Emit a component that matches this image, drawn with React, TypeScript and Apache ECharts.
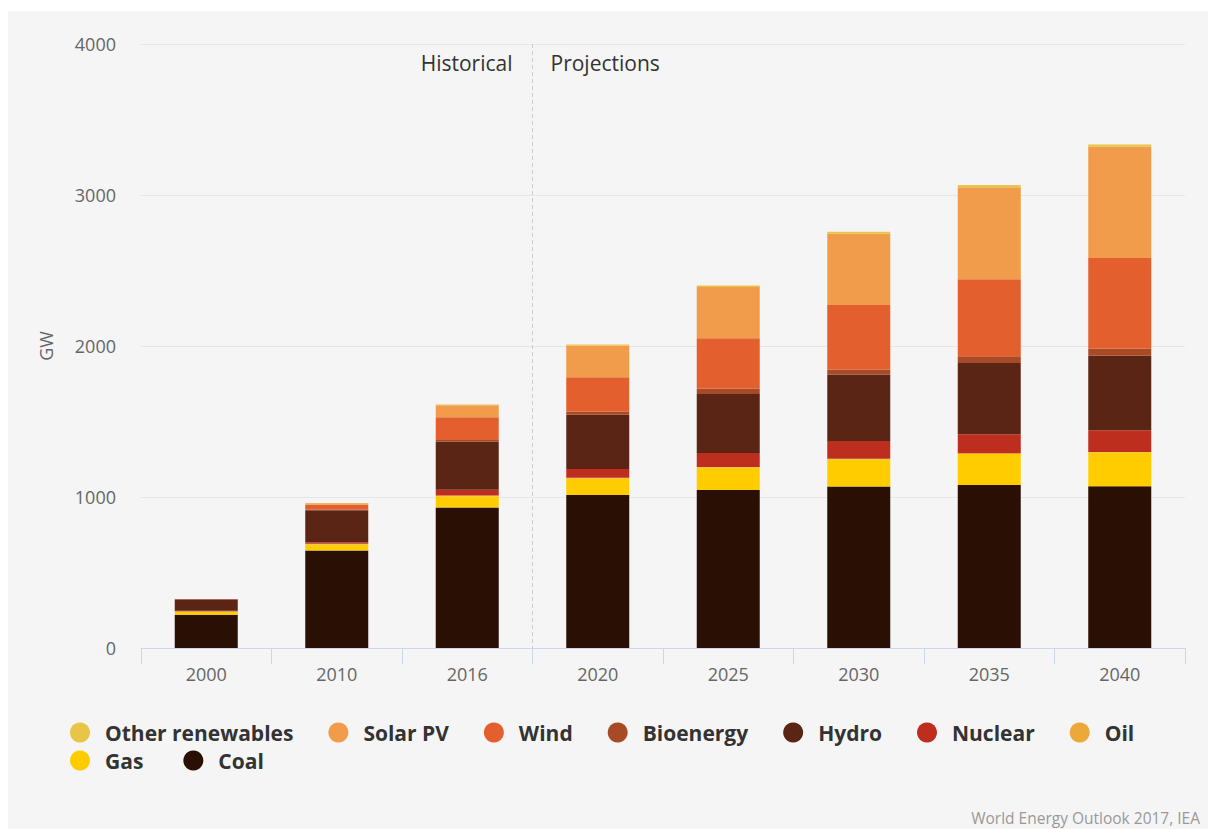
import React, { useEffect, useRef } from "react";
import * as echarts from "echarts";

const categories = ["2000", "2010", "2016", "2020", "2025", "2030", "2035", "2040"];
const coal = [220, 645, 930, 1013, 1047, 1070, 1080, 1072];
const gas = [18, 40, 75, 110, 148, 180, 205, 222];
const oil = [6, 5, 5, 5, 4, 4, 4, 4];
const nuclear = [2, 10, 38, 58, 92, 117, 126, 144];
const hydro = [76, 213, 320, 358, 391, 440, 473, 494];
const bioenergy = [2, 5, 10, 22, 36, 33, 44, 47];
const wind = [0, 30, 150, 227, 333, 428, 510, 600];
const solarPV = [0, 10, 80, 210, 340, 472, 610, 736];
const otherRenewables = [1, 2, 4, 7, 9, 12, 14, 16];

const yTicks = [0, 1000, 2000, 3000, 4000];

const seriesDefs = [
  { name: "Coal", data: coal, color: "#2A0F05" },
  { name: "Gas", data: gas, color: "#FFCC00" },
  { name: "Oil", data: oil, color: "#EDA83A" },
  { name: "Nuclear", data: nuclear, color: "#BE2E1E" },
  { name: "Hydro", data: hydro, color: "#5A2514" },
  { name: "Bioenergy", data: bioenergy, color: "#A84A26" },
  { name: "Wind", data: wind, color: "#E35F2E" },
  { name: "Solar PV", data: solarPV, color: "#F09C4A" },
  { name: "Other renewables", data: otherRenewables, color: "#E8C547" },
];

const legendRow1 = ["Other renewables", "Solar PV", "Wind", "Bioenergy", "Hydro", "Nuclear", "Oil"];
const legendRow2 = ["Gas", "Coal"];

const FONT = "'Open Sans', 'Noto Sans', sans-serif";

export default function App() {
  const ref = useRef<HTMLDivElement>(null);

  useEffect(() => {
    if (!ref.current) return;
    const chart = echarts.init(ref.current, undefined, { renderer: "svg" });
    const gridLeft = 133;
    const gridRight = 23;
    const gridTop = 33;
    const gridBottom = 181;
    const chartW = 1200;
    const chartH = 818;
    const plotW = chartW - gridLeft - gridRight;
    const dividerX = gridLeft + (plotW / categories.length) * 3;

    const legendCommon = {
      orient: "horizontal" as const,
      icon: "circle",
      itemWidth: 40,
      itemHeight: 20,
      itemGap: 35,
      selectedMode: false,
      textStyle: { fontFamily: FONT, fontSize: 21, fontWeight: "bold", color: "#333333" },
    };

    chart.setOption({
      animation: false,
      backgroundColor: "#F5F5F5",
      textStyle: { fontFamily: FONT },
      grid: { left: gridLeft, right: gridRight, top: gridTop, bottom: gridBottom },
      legend: [
        { ...legendCommon, data: legendRow1, left: 57, top: 706 },
        { ...legendCommon, data: legendRow2, left: 57, top: 734, itemGap: 40 },
      ],
      xAxis: {
        type: "category",
        data: categories,
        axisLine: { lineStyle: { color: "#CCD6EB", width: 1 } },
        axisTick: { show: true, length: 16, lineStyle: { color: "#CCD6EB" } },
        axisLabel: { color: "#666666", fontSize: 18, fontFamily: FONT, margin: 17 },
      },
      yAxis: {
        type: "value",
        min: yTicks[0],
        max: yTicks[yTicks.length - 1],
        interval: 1000,
        name: "GW",
        nameLocation: "middle",
        nameGap: 86,
        nameTextStyle: { color: "#666666", fontSize: 18, fontFamily: FONT },
        axisLine: { show: false },
        axisTick: { show: false },
        axisLabel: {
          color: "#666666",
          fontSize: 18,
          fontFamily: FONT,
          margin: 25,
          formatter: (v: number) => String(v),
        },
        splitLine: { lineStyle: { color: "#E6E6E6", width: 1 } },
      },
      series: seriesDefs.map((s) => ({
        name: s.name,
        type: "bar",
        stack: "total",
        barWidth: 63,
        data: s.data,
        itemStyle: { color: s.color, borderWidth: 0 },
        emphasis: { disabled: true },
      })),
      graphic: [
        {
          type: "line",
          z: 1,
          shape: { x1: dividerX, y1: gridTop, x2: dividerX, y2: chartH - gridBottom },
          style: { stroke: "#CCCCCC", lineWidth: 1, lineDash: [4, 3] },
        },
        {
          type: "text",
          x: dividerX - 20,
          y: 52,
          style: {
            text: "Historical",
            fill: "#333333",
            fontSize: 21,
            fontFamily: FONT,
            textAlign: "right",
            textVerticalAlign: "middle",
          },
        },
        {
          type: "text",
          x: dividerX + 18,
          y: 52,
          style: {
            text: "Projections",
            fill: "#333333",
            fontSize: 21,
            fontFamily: FONT,
            textAlign: "left",
            textVerticalAlign: "middle",
          },
        },
        {
          type: "text",
          right: 8,
          top: 799,
          style: {
            text: "World Energy Outlook 2017, IEA",
            fill: "#999999",
            fontSize: 15.5,
            fontFamily: FONT,
          },
        },
      ],
    });
    return () => chart.dispose();
  }, []);

  return (
    <div style={{ position: "fixed", left: 0, top: 0, width: 1208, height: 829, background: "#ffffff" }}>
      <div
        ref={ref}
        style={{ position: "absolute", left: 8, top: 11, width: 1200, height: 818 }}
      />
    </div>
  );
}
